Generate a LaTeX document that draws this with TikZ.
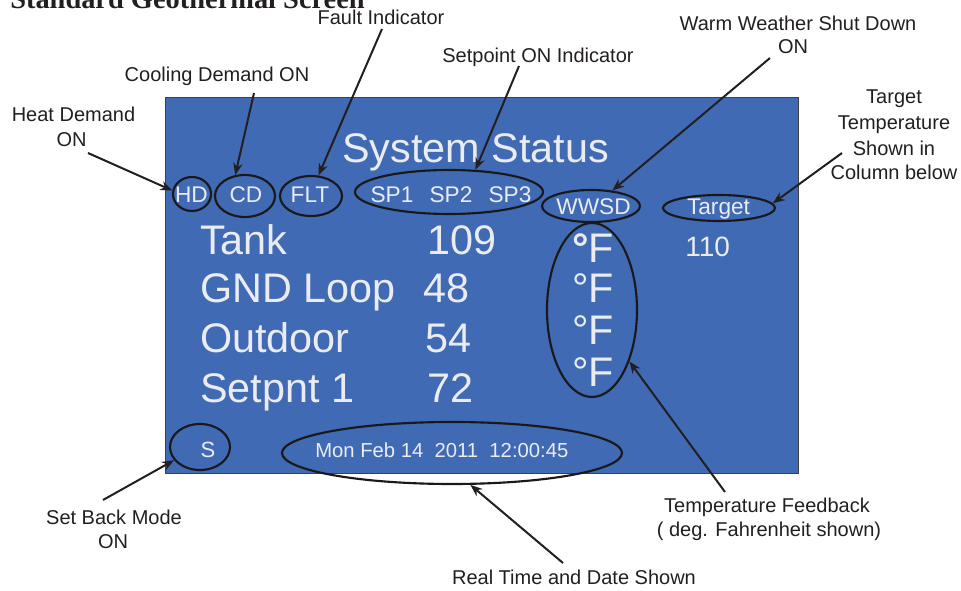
\documentclass[tikz,border=0pt]{standalone}
\usepackage{fontspec}
\setmainfont{Liberation Sans}
\newfontfamily\titlefont{Liberation Serif}
\usetikzlibrary{shapes.geometric,arrows.meta}
\definecolor{panelblue}{RGB}{64,106,180}
\definecolor{paneltext}{RGB}{234,236,242}
\definecolor{inktext}{RGB}{35,31,32}
\tikzset{
  callout/.style={font=\fontsize{15}{18}\selectfont, text=inktext, anchor=base, inner sep=0pt},
  screenlbl/.style={font=\fontsize{17}{20}\selectfont, text=paneltext, anchor=base, inner sep=0pt},
  bigrow/.style={font=\fontsize{31}{36}\selectfont, text=paneltext, anchor=base west, inner sep=0pt},
  degrow/.style={font=\fontsize{31}{36}\selectfont, text=paneltext, anchor=base west, inner sep=0pt},
  ring/.style={ellipse, draw=black!90, line width=1.6pt, inner sep=0pt},
  pointer/.style={line width=1.5pt, draw=inktext, -{Stealth[length=9pt,width=7pt]}},
}
\begin{document}
\begin{tikzpicture}[x=0.75pt,y=-0.75pt]
\useasboundingbox (0,0) rectangle (961,591);
\clip (0,0) rectangle (961,591);

% heading, partly above the page edge
\node[anchor=base west, inner sep=0pt, text=inktext,
      font=\titlefont\bfseries\fontsize{21.3}{24}\selectfont] (title) at (10,8.5) {Standard Geothermal Screen};

% screen panel
\node[draw=black!75, line width=0.6pt, fill=panelblue, inner sep=0pt,
      minimum width=474.75pt, minimum height=282pt] (panel) at (481.5,285) {};

% screen contents
\node[anchor=base west, inner sep=0pt, text=paneltext, font=\fontsize{31}{36}\selectfont] (sysstat) at (342,163) {System Status};

\node[screenlbl] (hdt) at (191.5,203) {HD};
\node[screenlbl] (cdt) at (246,203) {CD};
\node[screenlbl] (fltt) at (310,203) {FLT};
\node[screenlbl] (sp1) at (392,203) {SP1};
\node[screenlbl] (sp2) at (451,203) {SP2};
\node[screenlbl] (sp3) at (510,203) {SP3};
\node[screenlbl] (wwsdt) at (593.5,215) {WWSD};
\node[screenlbl] (targett) at (718.5,215) {Target};
\node[anchor=base west, inner sep=0pt, text=paneltext, font=\fontsize{21}{24}\selectfont] (tval) at (685,257) {110};

\node[bigrow] (r1) at (200,255) {Tank};
\node[bigrow] (r2) at (200,303) {GND Loop};
\node[bigrow] (r3) at (200,353) {Outdoor};
\node[bigrow] (r4) at (200,403) {Setpnt 1};
\node[bigrow] (v1) at (427,255) {109};
\node[bigrow] (v2) at (423,303) {48};
\node[bigrow] (v3) at (425,353) {54};
\node[bigrow] (v4) at (427,403) {72};

\node[degrow] (u1) at (572,263) {\textbf{°}F};
\node[degrow] (u2) at (572,303) {°F};
\node[degrow] (u3) at (572,345) {°F};
\node[degrow] (u4) at (572,387) {°F};

\node[anchor=base, inner sep=0pt, text=paneltext, font=\fontsize{16.5}{20}\selectfont] (st) at (208,458) {S};
\node[anchor=base west, inner sep=0pt, text=paneltext, font=\fontsize{15.2}{18}\selectfont] (datet) at (315,458) {Mon Feb 14\ \ 2011\ \ 12:00:45};

% hand-drawn style rings
\node[ring, minimum width=28.5pt, minimum height=25.5pt] (hd) at (192,194) {};
\node[ring, minimum width=45pt, minimum height=31.5pt] (cd) at (245,196) {};
\node[ring, minimum width=46.5pt, minimum height=30pt] (flt) at (311,196) {};
\node[ring, minimum width=141pt, minimum height=33pt] (sp) at (449,192) {};
\node[ring, minimum width=73.5pt, minimum height=24pt] (wwsd) at (591,206) {};
\node[ring, minimum width=84pt, minimum height=19.5pt] (target) at (719,208) {};
\node[ring, minimum width=67.5pt, minimum height=130.5pt] (deg) at (592,310) {};
\node[ring, minimum width=45pt, minimum height=34.5pt] (s) at (200,447) {};
\node[ring, minimum width=255pt, minimum height=46.5pt] (date) at (452,453) {};

% callout texts
\node[callout] (fault) at (381,25) {Fault Indicator};
\node[callout] (cool) at (217,82) {Cooling Demand ON};
\node[callout] (heatA) at (73.5,122) {Heat Demand};
\node[callout] (heatB) at (71.5,147) {ON};
\node[callout] (setp) at (538,63) {Setpoint ON Indicator};
\node[callout] (warmA) at (798,31) {Warm Weather Shut Down};
\node[callout] (warmB) at (793,54) {ON};
\node[callout] (targA) at (894,104) {Target};
\node[callout] (targB) at (894,130) {Temperature};
\node[callout] (targC) at (894,156) {Shown in};
\node[callout] (targD) at (894,180) {Column below};
\node[callout] (tempA) at (767,513) {Temperature Feedback};
\node[callout] (tempB) at (769,537) {( deg. Fahrenheit shown)};
\node[callout] (setbA) at (114,525) {Set Back Mode};
\node[callout] (setbB) at (113,549) {ON};
\node[callout] (real) at (574,585) {Real Time and Date Shown};

% pointer tails
\coordinate (faultT) at (382,29);
\coordinate (coolT) at (254,93);
\coordinate (heatT) at (88,153);
\coordinate (setpT) at (519,66);
\coordinate (warmT) at (770,58);
\coordinate (targT) at (842,153);
\coordinate (tempT) at (725,492);
\coordinate (setbT) at (103,500);
\coordinate (realT) at (563,563);

% pointers
\draw[pointer] (faultT) -- (flt.70);
\draw[pointer] (coolT) -- (cd.115);
\draw[pointer] (heatT) -- (hd.170);
\draw[pointer] (setpT) -- (sp.40);
\draw[pointer] (warmT) -- (wwsd.36);
\draw[pointer] (targT) -- (target.5);
\draw[pointer] (tempT) -- (deg.-54);
\draw[pointer] (setbT) -- (s.207);
\draw[pointer] (realT) -- (date.-60);
\end{tikzpicture}
\end{document}
